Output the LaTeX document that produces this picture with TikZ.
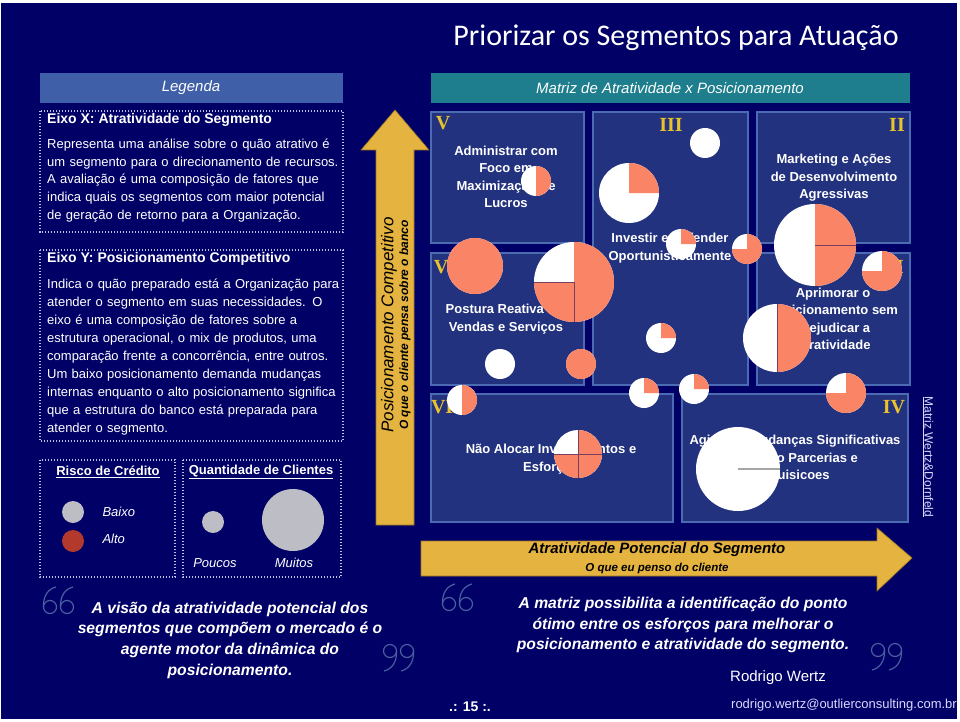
\documentclass[tikz,border=0pt]{standalone}
\usepackage{fontspec}
\setmainfont{Liberation Sans}
\newfontfamily\titlefont{Carlito}
\newfontfamily\numfont{Liberation Serif}
\definecolor{bgnavy}{HTML}{000066}
\definecolor{cellblue}{HTML}{23327E}
\definecolor{celledge}{HTML}{4B6CB2}
\definecolor{legbar}{HTML}{3F5FA8}
\definecolor{matbar}{HTML}{1F7E8D}
\definecolor{arrowgold}{HTML}{E5B33F}
\definecolor{arrowedge}{HTML}{9C7620}
\definecolor{salmonfill}{HTML}{FA8466}
\definecolor{pieline}{HTML}{7A3F60}
\definecolor{romangold}{HTML}{E9C22C}
\definecolor{dotcol}{HTML}{B9C2E2}
\definecolor{quoteline}{HTML}{4A5FA0}
\definecolor{legendgray}{HTML}{BDBDC6}
\definecolor{altored}{HTML}{B3392C}

% one justified line of the legend text
\newcommand{\jline}[1]{\makebox[294pt][s]{#1}}
% quote marks, drawn as outlines
\newcommand{\sixmark}[2]{%
  \draw[quotestroke] (#1+7,#2+20) circle (6.5);
  \draw[quotestroke] (#1+0.5,#2+20) .. controls (#1,#2+9) and (#1+5,#2+2) .. (#1+13,#2);}
\newcommand{\ninemark}[2]{%
  \draw[quotestroke] (#1+7,#2+7) circle (6.5);
  \draw[quotestroke] (#1+13.5,#2+7) .. controls (#1+14,#2+18) and (#1+9,#2+25) .. (#1+1,#2+27);}

\begin{document}
\begin{tikzpicture}[x=1pt, y=-1pt,
    cell/.style={draw=celledge, fill=cellblue, line width=2.5pt},
    dotbox/.style={draw=dotcol, line width=1.3pt, dash pattern=on 1.3pt off 1.7pt},
    goldarrow/.style={fill=arrowgold, draw=arrowedge, line width=0.6pt},
    celltext/.style={text=white, font=\fontsize{13}{17.5}\selectfont\bfseries, align=center},
    roman/.style={text=romangold, font=\numfont\fontsize{20}{20}\selectfont\bfseries},
    bartext/.style={text=white, font=\fontsize{15}{15}\selectfont\itshape},
    headtext/.style={text=white, font=\fontsize{14}{14}\selectfont\bfseries, anchor=west, inner sep=0},
    bodytext/.style={text=white, font=\fontsize{13}{17.6}\selectfont, text width=294pt, inner sep=0, align=left, anchor=north west},
    legtext/.style={text=white, font=\fontsize{13}{13}\selectfont\itshape},
    quotetext/.style={text=white, font=\fontsize{15.7}{20.7}\selectfont\bfseries\itshape, align=center},
    quotestroke/.style={draw=quoteline, line width=1.2pt},
    pieline/.style={draw=pieline, line width=0.8pt}]

  % page and background
  \fill[white] (0,0) rectangle (960,722);
  \fill[bgnavy] (1,3) rectangle (957,719);
  \useasboundingbox (0,0) rectangle (960,722);

  \node[text=white, font=\titlefont\fontsize{30}{30}\selectfont] (title) at (676,38) {Priorizar os Segmentos para Atuação};

  % legend column
  \fill[legbar] (40,73) rectangle (343,103);
  \node[bartext] (legenda) at (191,88) {Legenda};

  \draw[dotbox] (40,111) rectangle (343,232);
  \node[headtext] (eixox) at (47,120) {Eixo X: Atratividade do Segmento};
  \node[bodytext] (eixoxbody) at (47,139) {%
    \jline{Representa uma análise sobre o quão atrativo é}\\
    \jline{um segmento para o direcionamento de recursos.}\\
    \jline{A avaliação é uma composição de fatores que}\\
    \jline{indica quais os segmentos com maior potencial}\\
    de geração de retorno para a Organização.};

  \draw[dotbox] (40,250) rectangle (343,441);
  \node[headtext] (eixoy) at (47,259) {Eixo Y: Posicionamento Competitivo};
  \node[bodytext, font=\fontsize{13}{18}\selectfont] (eixoybody) at (47,279) {%
    \jline{Indica o quão preparado está a Organização para}\\
    \jline{atender o segmento em suas necessidades. O}\\
    \jline{eixo é uma composição de fatores sobre a}\\
    \jline{estrutura operacional, o mix de produtos, uma}\\
    \jline{comparação frente a concorrência, entre outros.}\\
    \jline{Um baixo posicionamento demanda mudanças}\\
    \jline{internas enquanto o alto posicionamento significa}\\
    \jline{que a estrutura do banco está preparada para}\\
    atender o segmento.};

  \draw[dotbox] (40,460) rectangle (175,577);
  \draw[dotbox] (183,460) rectangle (341,577);
  \node[text=white, font=\fontsize{13}{13}\selectfont\bfseries] (risco) at (108,472) {\underline{Risco de Crédito}};
  \node[text=white, font=\fontsize{13}{13}\selectfont\bfseries] (quantidade) at (261,472) {\underline{Quantidade de Clientes}};
  \fill[legendgray] (73,512) circle (11);
  \fill[altored] (73,541) circle (11);
  \fill[legendgray] (213,522) circle (11);
  \fill[legendgray] (293,520) circle (31);
  \node[legtext, anchor=west] (baixo) at (99,512) {Baixo};
  \node[legtext, anchor=west] (alto) at (99,539) {Alto};
  \node[legtext] (poucos) at (215,563) {Poucos};
  \node[legtext] (muitos) at (294,563) {Muitos};

  % vertical axis arrow
  \path[goldarrow] (376,525) -- (376,150) -- (361,150) -- (395,110) -- (429,150) -- (414,150) -- (414,525) -- cycle;
  \node[rotate=90, font=\fontsize{17}{17}\selectfont\itshape] (postitle) at (389,325) {Posicionamento Competitivo};
  \node[rotate=90, font=\fontsize{12}{12}\selectfont\bfseries\itshape] (possub) at (405,325) {O que o cliente pensa sobre o banco};

  % matrix
  \fill[matbar] (431,73) rectangle (910,103);
  \node[bartext] (matriz) at (670,88) {Matriz de Atratividade x Posicionamento};

  % loops over the 7 cells
  \foreach \xa/\ya/\xb/\yb in {431/112/584/243, 593/112/748/385, 757/112/910/243,
      431/253/584/385, 757/253/910/385, 431/394/673/522, 682/394/908/522}{
    \draw[cell] (\xa,\ya) rectangle (\xb,\yb);
  }
  \foreach \t/\x/\y in {V/443/123, III/671/125, II/897/125, VI/445/267, I/900/267, VII/446/407, IV/894/407}{
    \node[roman] (num\t) at (\x,\y) {\t};
  }

  \node[celltext] (txtV) at (506,177) {Administrar com\\Foco em\\Maximização de\\Lucros};
  \node[celltext] (txtIII) at (670,248) {Investir e Defender\\Oportunisticamente};
  \node[celltext] (txtII) at (834,178) {Marketing e Ações\\de Desenvolvimento\\Agressivas};
  \node[celltext] (txtVI) at (506,319) {Postura Reativa em\\Vendas e Serviços};
  \node[celltext] (txtI) at (833,319) {Aprimorar o\\Posicionamento sem\\Prejudicar a\\Atratividade};
  \node[celltext] (txtVII) at (551,459) {Não Alocar Investimentos e\\Esforços};
  \node[celltext] (txtIV) at (795,459) {Agir com Mudanças Significativas\\Fazendo Parcerias e\\Aquisicoes};

  % bubbles: x/y/radius/quarters in salmon
  \foreach \x/\y/\r/\q [count=\i] in {536/181/15/2, 705/143/15/0, 629/193/30/1, 681/244/15/1,
      747/249/15/3, 815/245/41/2, 882/271/20/3, 777/338/34/2, 846/393/20/3, 475/266/28/4,
      574/282/40/3, 500/364/15/0, 581/364/15/4, 661/338/15/1, 644/393/15/1, 694/389/15/1,
      462/400/15/2, 578/454/24/3, 738/469/42/0}{
    \fill[white] (\x,\y) circle (\r);
    \ifnum\q>0
      \fill[salmonfill] (\x,\y) -- ++(-90:\r) arc[start angle=-90, delta angle=90*\q, radius=\r] -- cycle;
    \fi
    \coordinate (b\i) at (\x,\y);
  }
  \draw[pieline] (b6) -- ++(0:41);
  \draw[pieline] (b8) -- ++(-90:34) (b8) -- ++(90:34);
  \draw[pieline] (b11) -- ++(90:40) (b11) -- ++(180:40);
  \draw[pieline] (b18) -- ++(-90:24) (b18) -- ++(90:24) (b18) -- ++(0:24) (b18) -- ++(180:24);
  \draw[gray!70, line width=1.5pt] (b19) -- ++(0:42);

  \node[rotate=-90, text=white!85!blue, font=\fontsize{12}{12}\selectfont] (autores) at (928,457) {\underline{Matriz Wertz\&Dornfeld}};

  % horizontal axis arrow
  \path[goldarrow] (421,541) -- (877,541) -- (877,528) -- (912,558) -- (877,591) -- (877,576) -- (421,576) -- cycle;
  \node[font=\fontsize{15}{15}\selectfont\bfseries\itshape] (atrtitle) at (657,550) {Atratividade Potencial do Segmento};
  \node[font=\fontsize{11.5}{11.5}\selectfont\bfseries\itshape] (atrsub) at (657,569) {O que eu penso do cliente};

  % quotes
  \sixmark{43}{587}\sixmark{60}{587}
  \ninemark{383}{644}\ninemark{400}{644}
  \sixmark{442}{584}\sixmark{459}{584}
  \ninemark{871}{643}\ninemark{888}{643}
  \node[quotetext] (quoteleft) at (230,640) {A visão da atratividade potencial dos\\segmentos que compõem o mercado é o\\agente motor da dinâmica do\\posicionamento.};
  \node[quotetext] (quoteright) at (683,625) {A matriz possibilita a identificação do ponto\\ótimo entre os esforços para melhorar o\\posicionamento e atratividade do segmento.};

  \node[text=white, font=\fontsize{15}{15}\selectfont] (autor) at (778,678) {Rodrigo Wertz};
  \node[text=white!85!blue, font=\fontsize{13}{13}\selectfont, anchor=east, inner sep=0] (email) at (957,705) {rodrigo.wertz@outlierconsulting.com.br};
  \node[text=white, font=\fontsize{14}{14}\selectfont\bfseries] (pagina) at (470,707) {.: 15 :.};
\end{tikzpicture}
\end{document}
